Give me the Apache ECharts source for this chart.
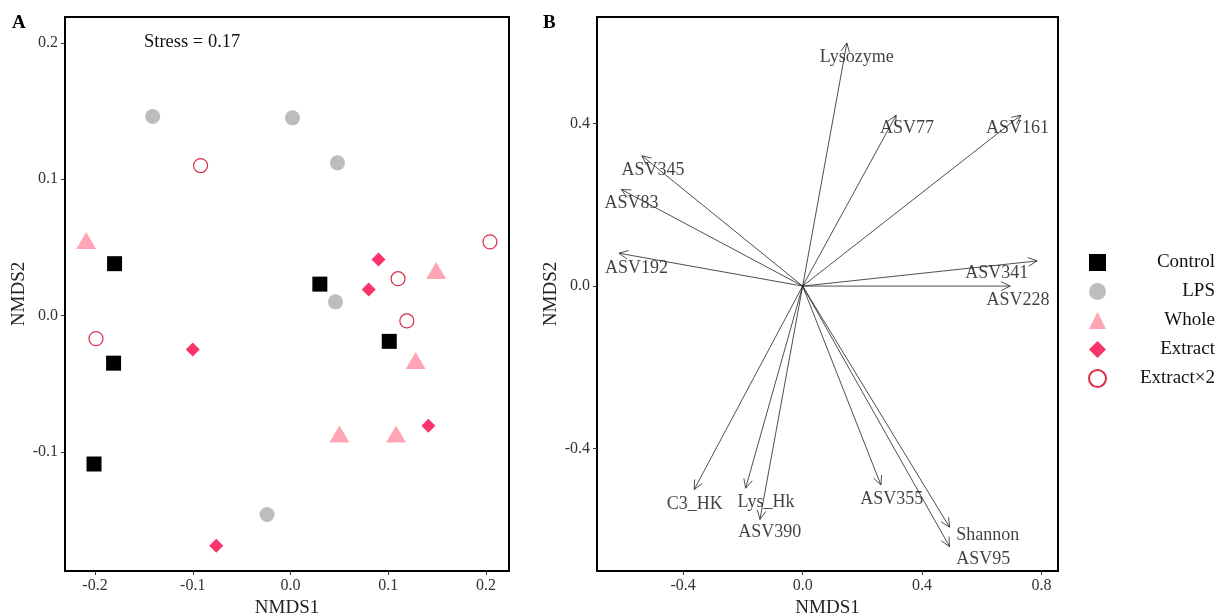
<!DOCTYPE html>
<html>
<head>
<meta charset="utf-8">
<script src="https://cdn.jsdelivr.net/npm/echarts@6/dist/echarts.min.js"></script>
<style>html,body{margin:0;padding:0;background:#fff;}#c{width:1222px;height:613px;}</style>
</head>
<body>
<div id="c"></div>
<script>
// ---------- Panel A: NMDS scores ----------
const groups = ['Control', 'LPS', 'Whole', 'Extract', 'Extract×2'];
const controlX = [-0.180, 0.030, 0.101, -0.181, -0.201];
const controlY = [0.038, 0.023, -0.019, -0.035, -0.109];
const lpsX = [-0.141, 0.002, 0.048, 0.046, -0.024];
const lpsY = [0.146, 0.145, 0.112, 0.010, -0.146];
const wholeX = [-0.209, 0.149, 0.128, 0.050, 0.108];
const wholeY = [0.055, 0.033, -0.033, -0.087, -0.087];
const extractX = [0.090, 0.080, -0.100, 0.141, -0.076];
const extractY = [0.041, 0.019, -0.025, -0.081, -0.169];
const extract2X = [-0.092, 0.204, 0.110, 0.119, -0.199];
const extract2Y = [0.110, 0.054, 0.027, -0.004, -0.017];
const ticksA = [-0.2, -0.1, 0.0, 0.1, 0.2];
const stressText = 'Stress = 0.17';

// ---------- Panel B: envfit vectors ----------
const vecNames = ['Lysozyme', 'ASV77', 'ASV161', 'ASV345', 'ASV83', 'ASV192', 'ASV341', 'ASV228',
                  'C3_HK', 'Lys_Hk', 'ASV390', 'ASV355', 'Shannon', 'ASV95'];
const vecX = [0.148, 0.313, 0.731, -0.538, -0.607, -0.615, 0.785, 0.695,
              -0.363, -0.191, -0.143, 0.262, 0.492, 0.492];
const vecY = [0.599, 0.421, 0.421, 0.321, 0.238, 0.081, 0.062, 0.000,
              -0.501, -0.498, -0.575, -0.490, -0.594, -0.642];
const labX = [0.181, 0.349, 0.719, -0.501, -0.573, -0.556, 0.650, 0.721,
              -0.361, -0.123, -0.110, 0.298, 0.620, 0.605];
const labY = [0.563, 0.388, 0.388, 0.286, 0.205, 0.045, 0.031, -0.035,
              -0.537, -0.532, -0.607, -0.525, -0.613, -0.673];
const ticksBX = [-0.4, 0.0, 0.4, 0.8];
const ticksBY = [-0.4, 0.0, 0.4];

const FONT = '"Liberation Serif", "Times New Roman", serif';
const zip = (xs, ys) => xs.map((x, i) => [x, ys[i]]);
const fmt1 = v => (Math.abs(v) < 1e-9 ? '0.0' : v.toFixed(1));

function mkAxis(extra, ticks) {
  return Object.assign({
    type: 'value',
    axisLine: { show: true, onZero: false, lineStyle: { color: '#000', width: 2 } },
    axisTick: { show: true, inside: false, length: 4, customValues: ticks, lineStyle: { color: '#333', width: 1 } },
    axisLabel: { color: '#333', fontFamily: FONT, fontSize: 16, margin: 7, formatter: fmt1, customValues: ticks },
    splitLine: { show: false },
    nameTextStyle: { color: '#222', fontFamily: FONT, fontSize: 19 },
    nameLocation: 'middle'
  }, extra);
}

const markerBase = { label: { show: false }, emphasis: { disabled: true } };

const option = {
  backgroundColor: '#fff',
  animation: false,
  grid: [
    { left: 65, top: 17, width: 444, height: 554, show: true, borderColor: '#000', borderWidth: 2,
      containLabel: false, outerBoundsMode: 'none' },
    { left: 597, top: 17, width: 461, height: 554, show: true, borderColor: '#000', borderWidth: 2,
      containLabel: false, outerBoundsMode: 'none' }
  ],
  xAxis: [
    mkAxis({ gridIndex: 0, min: -0.2307, max: 0.2235, name: 'NMDS1', nameGap: 23 }, ticksA),
    mkAxis({ gridIndex: 1, min: -0.6886, max: 0.855, name: 'NMDS1', nameGap: 23 }, ticksBX)
  ],
  yAxis: [
    mkAxis({ gridIndex: 0, min: -0.1875, max: 0.219, name: 'NMDS2', nameGap: 34 }, ticksA),
    mkAxis({ gridIndex: 1, min: -0.702, max: 0.663, name: 'NMDS2', nameGap: 36 }, ticksBY)
  ],
  legend: {
    orient: 'vertical',
    left: 1083,
    top: 248,
    itemGap: 10,
    itemWidth: 17,
    itemHeight: 17,
    formatter: n => '{t|' + n + '}',
    textStyle: {
      fontFamily: FONT, fontSize: 19, color: '#111',
      rich: { t: { fontFamily: FONT, fontSize: 19, color: '#111', width: 104, align: 'right' } }
    },
    data: [
      { name: 'Control', icon: 'rect' },
      { name: 'LPS', icon: 'circle' },
      { name: 'Whole', icon: 'triangle' },
      { name: 'Extract', icon: 'diamond' },
      { name: 'Extract×2', icon: 'circle' }
    ]
  },
  graphic: [
    { type: 'text', left: 12, top: 14, style: { text: 'A', font: 'bold 19px ' + FONT, fill: '#000' } },
    { type: 'text', left: 543, top: 14, style: { text: 'B', font: 'bold 19px ' + FONT, fill: '#000' } },
    { type: 'text', left: 144, top: 33, style: { text: stressText, font: '18.5px ' + FONT, fill: '#111' } }
  ],
  series: [
    Object.assign({}, markerBase, { name: 'Control', type: 'scatter', xAxisIndex: 0, yAxisIndex: 0,
      data: zip(controlX, controlY), symbol: 'rect', symbolSize: 15, itemStyle: { color: '#000', opacity: 1 } }),
    Object.assign({}, markerBase, { name: 'LPS', type: 'scatter', xAxisIndex: 0, yAxisIndex: 0,
      data: zip(lpsX, lpsY), symbol: 'circle', symbolSize: 15, itemStyle: { color: '#BDBDBD', opacity: 1 } }),
    Object.assign({}, markerBase, { name: 'Whole', type: 'scatter', xAxisIndex: 0, yAxisIndex: 0,
      data: zip(wholeX, wholeY), symbol: 'triangle', symbolSize: [20, 17], itemStyle: { color: '#FFA5B4', opacity: 1 } }),
    Object.assign({}, markerBase, { name: 'Extract', type: 'scatter', xAxisIndex: 0, yAxisIndex: 0,
      data: zip(extractX, extractY), symbol: 'diamond', symbolSize: 14, itemStyle: { color: '#F8346A', opacity: 1 } }),
    Object.assign({}, markerBase, { name: 'Extract×2', type: 'scatter', xAxisIndex: 0, yAxisIndex: 0,
      data: zip(extract2X, extract2Y), symbol: 'circle', symbolSize: 14,
      itemStyle: { color: '#fff', borderColor: '#D9304A', borderWidth: 1.2, opacity: 1 } }),
    {
      name: 'vectors', type: 'custom', xAxisIndex: 1, yAxisIndex: 1, silent: true,
      data: zip(vecX, vecY),
      renderItem: function (params, api) {
        const o = api.coord([0, 0]);
        const t = api.coord([api.value(0), api.value(1)]);
        const ang = Math.atan2(t[1] - o[1], t[0] - o[0]);
        const L = 10, A = Math.PI / 7;
        const p1 = [t[0] - L * Math.cos(ang - A), t[1] - L * Math.sin(ang - A)];
        const p2 = [t[0] - L * Math.cos(ang + A), t[1] - L * Math.sin(ang + A)];
        const st = { stroke: '#222', lineWidth: 0.8, fill: null };
        return {
          type: 'group',
          children: [
            { type: 'line', shape: { x1: o[0], y1: o[1], x2: t[0], y2: t[1] }, style: st },
            { type: 'polyline', shape: { points: [p1, t, p2] }, style: st }
          ]
        };
      }
    },
    {
      name: 'vecLabels', type: 'scatter', xAxisIndex: 1, yAxisIndex: 1, silent: true,
      data: zip(labX, labY).map((p, i) => ({ value: p, name: vecNames[i] })),
      symbolSize: 0,
      label: { show: true, position: 'inside', formatter: '{b}', fontFamily: FONT, fontSize: 18, color: '#111' }
    }
  ]
};

const chart = echarts.init(document.getElementById('c'), null, { renderer: 'canvas' });
chart.setOption(option);
</script>
</body>
</html>
